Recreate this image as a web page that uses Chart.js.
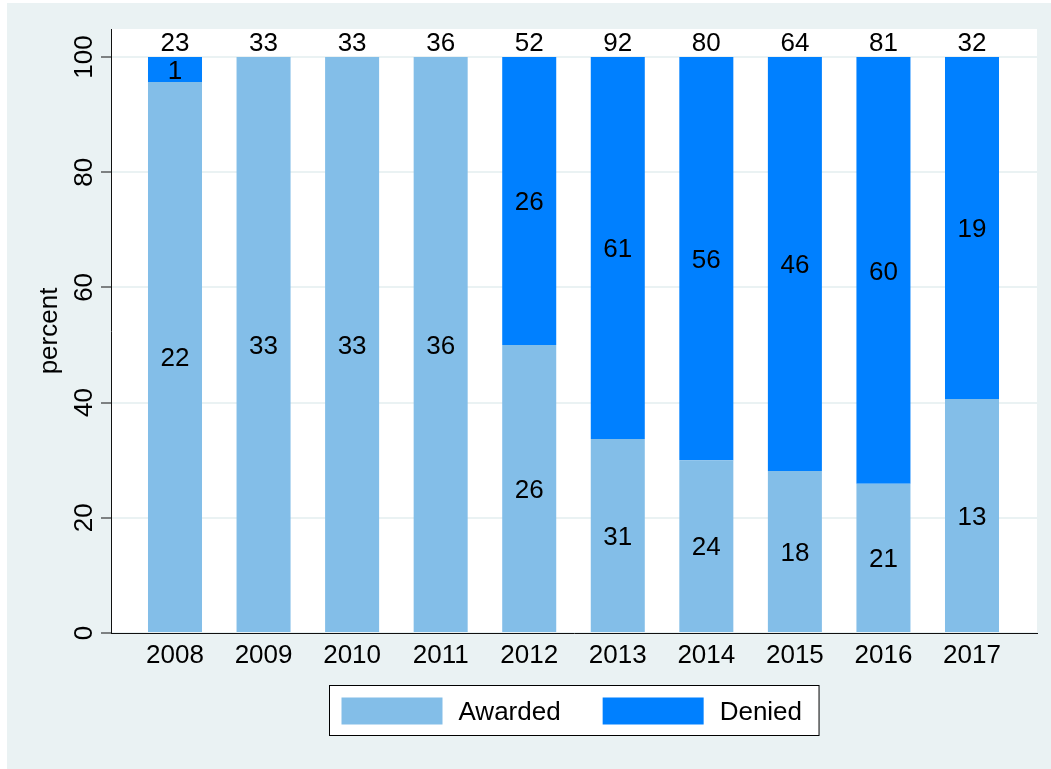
<!DOCTYPE html>
<html>
<head>
<meta charset="utf-8">
<script src="https://cdn.jsdelivr.net/npm/chart.js@4.4.1/dist/chart.umd.min.js"></script>
<style>
  html, body { margin: 0; padding: 0; background: #ffffff; }
  #wrap { width: 1051px; height: 769px; }
</style>
</head>
<body>
<div id="wrap"><canvas id="chart" width="1051" height="769"></canvas></div>
<script>
// counts
const years = ["2008", "2009", "2010", "2011", "2012", "2013", "2014", "2015", "2016", "2017"];
const awarded = [22, 33, 33, 36, 26, 31, 24, 18, 21, 13];
const denied = [1, 0, 0, 0, 26, 61, 56, 46, 60, 19];
const yTicks = [0, 20, 40, 60, 80, 100];

const FONT = "'Liberation Sans', Arial, Helvetica, sans-serif";
const FSIZE = 26;
const bgColor = "#eaf2f3";

// percent of each year's total
const totals = years.map((_, i) => awarded[i] + denied[i]);
const pct = (arr) => arr.map((v, i) => ({ x: i, y: (v / totals[i]) * 100 }));

// outer Stata-like background + white plot region
const backdrop = {
  id: "backdrop",
  beforeDraw(chart) {
    const { ctx, chartArea: a } = chart;
    ctx.save();
    ctx.fillStyle = "#ffffff";
    ctx.fillRect(0, 0, chart.width, chart.height);
    ctx.fillStyle = bgColor;
    ctx.fillRect(7, 3, chart.width - 7, chart.height - 3);
    ctx.fillStyle = "#ffffff";
    ctx.fillRect(a.left, a.top, a.right - a.left, a.bottom - a.top);
    ctx.restore();
  },
};

// rotated y tick labels and axis title
const yLabels = {
  id: "yLabels",
  afterDraw(chart) {
    const { ctx, chartArea: a } = chart;
    const y = chart.scales.y;
    ctx.save();
    ctx.fillStyle = "#000";
    ctx.font = `${FSIZE}px ${FONT}`;
    ctx.textAlign = "center";
    ctx.textBaseline = "alphabetic";
    yTicks.forEach((v) => {
      ctx.save();
      ctx.translate(91.5, y.getPixelForValue(v));
      ctx.rotate(-Math.PI / 2);
      ctx.fillText(String(v), 0, 0);
      ctx.restore();
    });
    ctx.translate(57, (a.top + a.bottom) / 2);
    ctx.rotate(-Math.PI / 2);
    ctx.fillText("percent", 0, 0);
    ctx.restore();
  },
};

// count labels inside segments and totals on top
const barLabels = {
  id: "barLabels",
  afterDatasetsDraw(chart) {
    const { ctx } = chart;
    const counts = [awarded, denied];
    const capMid = FSIZE * 0.358;
    ctx.save();
    ctx.fillStyle = "#000";
    ctx.font = `${FSIZE}px ${FONT}`;
    ctx.textAlign = "center";
    ctx.textBaseline = "alphabetic";
    counts.forEach((arr, d) => {
      const meta = chart.getDatasetMeta(d);
      meta.data.forEach((bar, i) => {
        if (!arr[i]) return;
        ctx.fillText(String(arr[i]), bar.x, (bar.y + bar.base) / 2 + capMid);
      });
    });
    const top = chart.getDatasetMeta(1);
    top.data.forEach((bar, i) => {
      ctx.fillText(String(totals[i]), bar.x, bar.y - 6);
    });
    ctx.restore();
  },
};

// boxed legend under the plot
const boxLegend = {
  id: "boxLegend",
  afterDraw(chart) {
    const { ctx, chartArea: a } = chart;
    const sets = chart.data.datasets;
    ctx.save();
    ctx.font = `${FSIZE}px ${FONT}`;
    const padL = 12, padR = 17, sw = 101, sh = 27, gap = 16, itemGap = 42;
    const widths = sets.map((s) => ctx.measureText(s.label).width);
    let total = padL + padR;
    widths.forEach((w, i) => { total += sw + gap + w + (i > 0 ? itemGap : 0); });
    const left = Math.round((a.left + a.right) / 2 - total / 2) + 0.5;
    const top = 685.5, h = 50;
    ctx.fillStyle = "#ffffff";
    ctx.fillRect(left, top, total, h);
    ctx.strokeStyle = "#000";
    ctx.lineWidth = 1;
    ctx.strokeRect(left, top, total, h);
    let x = left + padL;
    const sy = top + 12;
    sets.forEach((s, i) => {
      ctx.fillStyle = s.backgroundColor;
      ctx.fillRect(x, sy, sw, sh);
      x += sw + gap;
      ctx.fillStyle = "#000";
      ctx.textAlign = "left";
      ctx.textBaseline = "alphabetic";
      ctx.fillText(s.label, x, sy + sh / 2 + FSIZE * 0.358);
      x += widths[i] + itemGap;
    });
    ctx.restore();
  },
};

Chart.defaults.font.family = FONT;
Chart.defaults.color = "#000";

new Chart(document.getElementById("chart"), {
  type: "bar",
  data: {
    datasets: [
      {
        label: "Awarded",
        data: pct(awarded),
        backgroundColor: "#83bee8",
        borderWidth: 0,
        categoryPercentage: 1,
        barPercentage: 0.61,
      },
      {
        label: "Denied",
        data: pct(denied),
        backgroundColor: "#0080ff",
        borderWidth: 0,
        categoryPercentage: 1,
        barPercentage: 0.61,
      },
    ],
  },
  options: {
    responsive: false,
    animation: false,
    layout: { padding: { top: 29, right: 14, left: 0, bottom: 0 } },
    plugins: {
      legend: { display: false },
      tooltip: { enabled: false },
    },
    scales: {
      x: {
        type: "linear",
        stacked: true,
        offset: false,
        min: -0.7227,
        max: 9.734,
        afterBuildTicks: (s) => { s.ticks = years.map((_, i) => ({ value: i })); },
        afterFit: (s) => { s.height = 136; },
        ticks: {
          callback: (v) => years[v],
          autoSkip: false,
          maxRotation: 0,
          minRotation: 0,
          padding: 7,
          color: "#000",
          font: { size: FSIZE },
        },
        grid: { display: false, drawTicks: false, offset: false },
        border: { display: true, color: "#111", width: 1 },
      },
      y: {
        stacked: true,
        min: 0,
        max: 104.86,
        afterBuildTicks: (s) => { s.ticks = yTicks.map((v) => ({ value: v })); },
        afterFit: (s) => { s.width = 111; },
        ticks: { display: false },
        grid: {
          color: bgColor,
          lineWidth: 2,
          drawTicks: true,
          tickLength: 10,
          tickColor: "#111",
          tickWidth: 1,
        },
        border: { display: true, color: "#111", width: 1 },
      },
    },
  },
  plugins: [backdrop, yLabels, barLabels, boxLegend],
});
</script>
</body>
</html>
